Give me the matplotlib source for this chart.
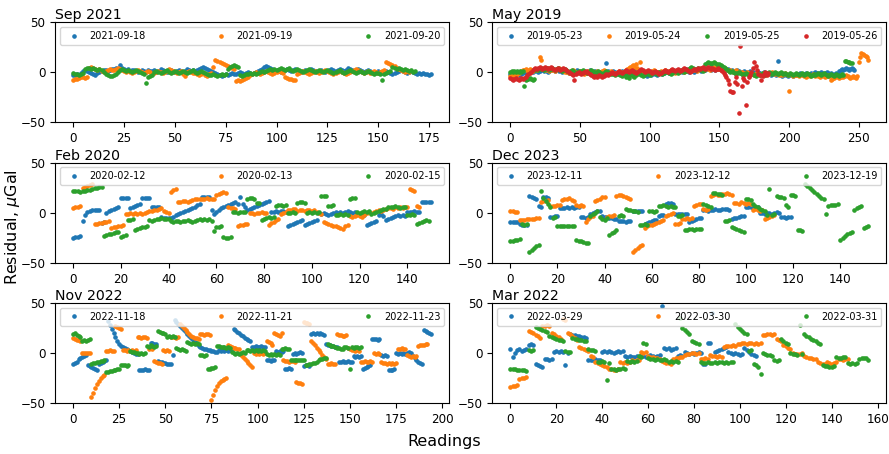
import numpy as np
import matplotlib
matplotlib.use("Agg")
import matplotlib.pyplot as plt

# residuals per survey day (uGal), one value per reading
sep_labels = ["2021-09-18", "2021-09-19", "2021-09-20"]
sep_a = [-3, -3, -2, -3, -1, 1, 2, 1, 0, -1, -2, -3, -1, 0, 1, 2, 2, 1, 2, 3,
         3, 4, 2, 7, 4, 3, 2, 3, 1, 2, 2, 1, 0, 1, 2, 1, 0, 2, 1, 1,
         2, 0, 1, 3, 2, 1, 0, 1, 2, 1, 0, 1, 2, 1, 0, 1, 3, 2, 1, 2,
         1, 2, 3, 4, 5, 4, 3, 2, 1, 0, -1, -2, -3, -4, -3, -2, -3, -2, -1, -2,
         -2, -1, 0, -1, -2, -1, 0, -1, -2, -1, 0, 1, 2, 3, 5, 6, 5, 4, 3, 2,
         2, 1, 0, 1, 2, 3, 2, 1, 2, 3, 2, 1, 0, 1, 2, 1, 2, 3, 2, 1,
         0, 1, 2, 1, 0, 1, 2, 3, 2, 1, 2, 3, 2, 1, 2, 4, 3, 2, 1, 2,
         3, 2, 1, 0, 1, 2, 1, 0, -1, 0, 1, 0, -1, 0, 1, 0, -1, -2, -1, 0,
         1, 2, 1, 0, -1, 0, 1, 0, -1, -2, -1, -2, -1, -2, -2, -3, -2]
sep_b = [-8, -7, -7, -6, -5, -5, -6, -5, 4, 5, 4, 3, 2, 3, 1, 0, 1, 2, 3, 2,
         2, 3, 4, 3, 2, 1, 0, 1, 0, -1, 0, 1, 2, 1, 0, -1, 0, 1, 0, -2,
         -1, 0, 1, 0, -1, 0, 1, 3, 2, 1, 0, -1, 0, 1, -2, -4, 0, 1, 0, -1,
         -1, -2, -3, -2, -1, -3, -4, -2, -1, 5, 12, 11, 10, 9, 8, 7, 6, 5, 4, 3,
         -9, -8, -9, -8, -7, -6, -5, -3, -2, -1, 0, -1, -2, -1, 0, 1, 0, -1, -2, -1,
         0, 1, 0, -1, -5, -6, -7, -7, -8, -8, -2, -1, 0, 1, 0, -1, -2, -1, 0, 1,
         0, -1, 0, 1, 2, 1, 0, -1, -2, -1, 0, 1, 0, -1, -2, -1, 0, 1, 2, 3,
         2, 1, 0, -1, 0, 1, -1, 0, 1, 0, -1, 0, 1, 2, 10, 9, 8, 7, 6, 4,
         3, 2, 1, 0, 1, 0]
sep_c = [-1, -2, -2, -3, -2, -1, 3, 4, 4, 3, 4, 3, 2, 3, 2, 0, -2, -3, -4, -4,
         -3, -2, 0, 2, 3, 2, 1, 2, 1, 0, 1, 2, 1, 0, -1, -2, -11, -5, -4, -3,
         0, 1, 0, -1, 0, 1, 2, 0, -1, 0, 1, 0, -1, 0, 1, 0, -1, 0, 1, 2,
         0, -1, 0, 1, 0, -1, -2, -3, -3, -2, -3, -4, -3, -2, -3, -2, 3, 5, 6, 7,
         6, 5, -3, -4, -3, -2, -2, -1, -2, -1, -2, -1, 0, 1, 0, 1, 2, 3, 2, 3,
         2, 3, 4, 3, 2, 3, 4, 2, 1, 2, 3, 2, 1, 0, 1, 2, 3, 2, 1, 0,
         1, 2, 1, 0, 1, 2, 1, 0, -1, 0, 1, 2, 0, -1, 0, 1, 2, 1, 0, -1,
         0, 1, 0, -1, 0, 1, 0, -1, -2, -1, -1, -2, -8, -2, -1, 0, 1, 5, 4, 3,
         4, 3, 2, 3, 2, 1, 2, 0, 1]

may_labels = ["2019-05-23", "2019-05-24", "2019-05-25", "2019-05-26"]
may_a = [-2, -1, -3, -2, -1, -2, -3, -1, -2, -1, 0, -1, 1, 0, 2, 1, 0, 1, 2, 1,
         0, 1, 2, 3, 1, 2, 1, 0, 1, 2, 3, 2, 1, 2, 3, 1, 2, 0, 1, 2,
         1, 0, -1, 0, 1, -1, 0, 1, 2, 0, -1, 0, 1, 0, -1, 0, 1, 2, 0, -1,
         0, 1, 0, -1, 0, -2, -1, 0, 1, 9, 1, 0, -1, 0, 1, 0, -1, -2, -1, 0,
         1, 0, -1, -2, -1, 0, 1, 2, 3, 4, 2, 1, 0, -1, -2, -3, -2, -3, -4, -3,
         -2, -3, -2, -1, -2, -3, -1, 0, -1, -2, -1, 0, 1, 0, -1, 0, 1, 2, 1, 0,
         1, 2, 1, 0, 1, 2, 3, 1, 0, 1, 2, 1, 0, 1, 2, 3, 2, 1, 2, 3,
         2, 3, 4, 3, 2, 4, 3, 2, 3, 4, 5, 4, 3, 4, 3, 2, 3, 2, 1, 2,
         1, 0, 1, 2, 1, 0, -1, 0, 1, 0, -1, 0, 1, -1, 0, -1, -2, -1, 0, -1,
         -2, -1, 0, -1, -2, -1, -2, -3, -2, -1, -2, -3, 11, -2, -3, -4, -3, -2, -3, -4,
         -3, -2, -3, -4, -3, -2, -3, -2, -1, -2, -3, -2, -1, -2, -3, -2, -1, -2, -1, 0,
         -1, -2, -1, 0, -1, -2, -1, 0, -1, -2, -1, -2, -3, -2, -1, -2, 1, 2, 3, 2,
         3, 4, 3, 2, 3, 4, 3, 2]
may_b = [-4, -3, -4, -2, -3, -2, -1, 0, 1, 2, 2, 3, 2, 1, 3, 2, 1, 2, 3, 2,
         3, 15, 12, 3, 4, 2, 3, 2, 1, 2, 3, 2, 1, 2, 3, 4, 3, 2, 1, 0,
         1, 0, -1, 0, 1, 2, 1, 0, -1, 0, 1, 0, -1, -2, -1, 0, 1, 0, -1, 0,
         -1, 0, 1, 0, -1, 0, 1, 2, 1, 0, -1, 0, 1, 0, -1, -2, -1, 0, 1, 0,
         -1, 0, 1, 2, 3, 4, 5, 6, 7, 5, 8, 4, 2, 10, 1, 0, -1, 0, 1, 0,
         -1, 0, 1, 2, 1, 0, -1, 0, 1, 0, 1, 2, 1, 0, 1, 2, 1, 0, -1, 0,
         1, 0, 1, 2, 1, 0, 1, 2, 3, 2, 1, 2, 3, 2, 1, 2, 3, 4, 3, 2,
         3, 4, 3, 2, 3, 4, 5, 4, 3, 4, 3, 4, 2, 3, 4, 3, 2, 1, 2, 1,
         0, 1, 2, 1, 0, -1, 0, -1, -2, -1, 0, -1, -2, -1, -2, -3, -2, -1, -2, -3,
         -2, -1, -2, -3, -2, -1, -2, -1, 0, -1, -2, -1, -2, -3, -2, -3, -2, -1, -2, -3,
         -19, -2, -3, -4, -3, -2, -3, -4, -3, -2, -3, -4, -5, -4, -3, -4, -3, -2, -3, -4,
         -3, -4, -5, -4, -3, -4, -5, -4, -3, -4, -8, -7, -6, -5, -4, -5, -6, -5, -4, -5,
         -4, -3, -4, -5, -6, -5, -4, -5, -6, -4, 10, 15, 19, 18, 17, 16, 15, 12]
may_c = [0, 1, 0, 1, 0, 1, 0, 1, 0, 1, -14, -8, -7, -7, -6, -7, -8, -7, 2, 3,
         2, 3, 4, 3, 2, 3, 4, 3, 2, 3, 4, 3, 2, 3, 4, 3, 2, 1, 2, 3,
         2, 1, 0, 1, 2, 1, 0, -1, 0, 1, 0, 1, 2, 1, 0, -1, 0, 1, 2, 1,
         0, -1, 0, 1, 0, -1, -2, -1, 0, 1, 0, -1, -2, -1, -2, -3, -2, -1, -2, -3,
         -4, -3, -2, -5, -4, -6, -3, -2, -4, -5, -3, -2, -1, -2, -3, -4, -3, -2, -1, -2,
         -3, -2, -1, 0, -1, -2, -1, 0, -1, -2, -1, 0, 1, 0, -1, -2, -1, 0, 1, 0,
         -1, 0, 1, 2, 1, 0, 1, 2, 3, 4, 5, 4, 3, 2, 3, 4, 3, 2, 1, 2,
         8, 9, 10, 9, 8, 9, 10, 9, 8, 7, 8, 7, 6, 5, 4, 3, 2, 1, 0, 1,
         0, -1, -2, -1, 0, -1, -2, -3, -2, -1, -2, -3, -2, -1, -2, -3, -4, -3, -2, -3,
         -2, -1, -2, -3, -2, -1, 0, -1, -2, -1, 0, -1, -2, -1, 0, -1, -2, -1, -2, -3,
         -2, -1, -2, -3, -2, -1, -2, -3, -2, -1, -2, -3, -2, -1, -2, -3, -4, -3, -2, -3,
         -2, -1, -2, -3, -2, -1, -2, -3, -4, -3, -2, -3, -4, -3, -2, -3, -4, -3, -2, -3,
         11, 11, 10, 10, 9, 9]
may_d = [-6, -7, -8, -7, -6, -7, -8, -7, -6, -7, -6, -5, -3, -2, -1, 0, 2, 3, 4, 3,
         4, 5, 4, 3, 4, 5, 4, 3, 4, 5, 4, 3, 2, 3, 4, 3, 2, 3, 4, 3,
         2, 1, 0, -1, -2, -3, -8, -2, -1, 0, -1, -2, -1, 0, 1, 0, -1, -2, -3, -4,
         -5, -4, -5, -4, -3, -4, -5, -4, -3, -2, -3, -2, -1, 0, -1, -2, -1, 0, 1, 0,
         -1, 0, 1, 2, 1, 0, 1, 2, 1, 0, -1, 0, 1, 2, 3, 2, 1, 0, 1, 2,
         1, 0, -1, 0, 1, 0, -1, -2, -1, 0, 1, 2, 1, 0, 1, 2, 3, 2, 1, 2,
         3, 2, 1, 2, 3, 4, 3, 2, 1, 0, 1, 2, 3, 2, 3, 4, 3, 4, 5, 4,
         3, 4, 5, 4, 3, 4, 3, 2, 3, 4, 3, 2, 1, -1, -3, -5, -8, -12, -19, -20,
         -20, -10, -5, -12, -41, 26, -14, -6, -8, -33, -10, -5, -3, 0, 4, 10, 6, 2, -2, -3,
         -8, -4, -2, 0, -3, -1]

feb_labels = ["2020-02-12", "2020-02-13", "2020-02-15"]
feb_a = [-25, -24, -24, -23, -8, -2, 1, 2, 3, 3, 3, 3, -10, -9, 0, 2, 3, 4, 5, 6,
         15, 15, 15, 15, 5, 6, 7, 8, 9, 15, 15, 15, 15, 6, 6, 6, 6, -4, -5, -5,
         -5, -5, -4, -2, -1, 0, 1, 2, 3, 4, 5, 6, 8, 9, 16, 16, 16, 16, 3, -1,
         1, 3, 5, 6, 7, 8, 9, 10, 11, 9, 16, 9, 6, 3, 4, 5, 6, 7, 8, 9,
         10, 11, 12, 1, 1, 2, 1, 2, 2, 1, -13, -12, -11, -10, -9, -8, -7, -12, -11, -10,
         -9, -8, -7, 0, -1, 0, -1, -2, -1, 0, 1, 0, 1, 0, 1, 2, 1, 0, 1, 0,
         -2, -3, -2, -12, -11, -10, -9, -8, -2, -1, -3, -7, -6, -5, -4, -3, -2, -3, -2, -3,
         1, 1, 1, 2, 1, 1, 11, 11, 11, 11, 11]
feb_b = [5, 6, 6, 7, 25, 26, 27, 28, 29, -11, -11, -10, -10, -9, -9, -8, -15, -14, -14, -13,
         -13, -12, -1, -1, 0, -1, 0, -1, 0, -1, 0, 1, 2, 2, 3, 3, 4, 5, 2, 1,
         0, 21, 23, 24, 11, 11, 12, 12, 11, 12, 13, 14, 14, 14, 14, 14, 15, 14, 14, 14,
         18, 19, 20, 21, 20, 6, 5, 5, 4, -13, -12, -12, -11, -11, 0, 0, -1, 0, 0, 1,
         0, 0, -12, -10, -9, -7, -6, -1, 0, 1, 3, 3, 4, 4, 2, 3, 3, 2, 3, 3,
         2, 3, 1, 0, -1, -9, -10, -11, -12, -13, -13, -14, -15, -16, -13, -12, -3, -4, -3, -2,
         -3, -4, -2, 0, 1, 0, 1, 2, 3, 2, 3, 4, 5, 5, 4, 6, 5, 6, 5, 6,
         6, 24, 23, 22, 7, 6]
feb_c = [22, 22, 22, 21, 22, 22, 23, 23, 24, 25, 25, 26, 26, -23, -22, -21, -21, -20, -19, -19,
         -24, -23, -22, -7, -7, -6, -17, -16, -15, -14, -14, -13, -7, -8, -7, -6, -6, -5, -6, -6,
         -6, -8, -9, -8, -8, -9, -8, -8, -7, -8, -9, -8, -7, -6, -7, -6, -7, -6, -8, -18,
         -14, -14, -13, -24, -25, -25, -24, 1, 1, 0, 1, 1, 1, 14, 15, 15, 14, 10, 10, -7,
         -6, -5, -4, -5, -4, 7, 8, 8, 7, 8, 0, 0, 1, 0, 10, 11, 11, 10, 0, 1,
         0, 1, 0, 1, 17, 17, 17, 7, 7, 8, -2, -2, -1, -2, -1, -2, 14, 15, 15, 1,
         0, 1, 2, 1, 2, -1, 0, 1, 2, 3, 4, 4, 6, 6, 6, 7, 6, 5, 6, 6,
         -2, -2, -1, -2, -11, -10, -9, -8, -7, -8]

dec_labels = ["2023-12-11", "2023-12-12", "2023-12-19"]
dec_a = [-9, -9, -9, -9, -11, -12, -12, -12, 17, 16, 15, 14, 7, 6, 16, 16, 15, -4, -4, -3,
         -3, 5, 5, 5, 6, 5, 6, 5, 6, 6, -4, -4, -5, -4, -1, 0, 1, 2, 2, -3,
         -4, -4, -5, -5, -6, -6, -8, -8, -8, -9, -8, -8, 2, 2, 2, 2, 2, -11, -10, -9,
         -8, -7, -7, -3, -2, -2, 9, 10, 10, 9, -1, -1, -1, -1, -1, -1, -9, -8, -7, -6,
         -5, -5, 3, 3, 2, 3, 3, 4, 3, 3, 4, 4, 4, 3, -6, -5, -5, -4, -3, -3,
         6, 6, 6, 5, 6, 6, 0, 0, -1, 0, 0, -1, 0, 1, 0, -4, -4, -5, -4, -4]
dec_b = [2, 2, 1, 1, -7, -7, -7, -6, -6, -6, -6, -5, -5, 11, 12, 12, 13, 7, 7, 7,
         8, 8, 13, 14, 14, 15, 13, 12, 8, 7, 8, 7, -9, -6, -4, -3, 12, 13, 14, 16,
         16, -4, -3, -3, -2, 17, 18, 18, 17, 16, 15, 14, -39, -37, -35, -33, -32, -15, -13, -12,
         -12, -11, -10, -9, -8, -7, -3, -2, -1, 0, -11, -11, -10, -6, -6, -5, -6, -5, 7, 8,
         9, 9, 4, 3, 4, 17, 18, 19, 18, 18, 19, 19, 20, 19, 18, 10, 10, 9, 11, 10,
         9, 10, 9, 3, 4, 3, 2, 3, -6, -5, -4, -3, -2]
dec_c = [-28, -28, -27, -27, -26, -11, -12, -11, -39, -37, -35, -33, -32, 22, 15, 12, 9, 6, -5, -4,
         -13, -13, -13, -13, -13, -13, -13, -13, -27, -28, -28, -29, -30, -30, -3, -1, 0, 2, -4, -6,
         -7, -5, -22, -20, -19, -17, -3, -2, -3, 4, 3, 3, 2, 2, 1, -12, -12, -11, -12, 2,
         2, 1, 2, 7, 7, 8, 7, 6, 7, 6, 6, -3, -3, -2, -17, -17, -16, -16, -17, -16,
         -16, -16, 9, 8, 7, 6, 20, 20, 19, 19, 18, -8, -8, -7, -14, -15, -16, -17, -18, -19,
         14, 14, 13, 9, 7, 6, 4, 3, 2, -2, 24, -2, -1, 17, 16, 16, 15, 8, 6, 18,
         18, 17, -17, -17, -18, 29, 27, 25, 23, 21, 19, 17, 15, 14, -1, 7, 8, 8, 8, 9,
         -27, -25, -23, -21, -20, -19, 3, 5, 6, 7, -15, -14, -13]

nov_labels = ["2022-11-18", "2022-11-21", "2022-11-23"]
nov_a = [-11, -10, -9, -6, -5, -4, -3, -2, -12, -13, -14, -15, -16, -17, -11, -10, -9, -8, -7, 32,
         28, 24, 20, 16, 12, 9, 7, 6, 5, 4, 3, 2, 1, 0, -1, -1, -17, -17, -17, -16,
         -17, -17, 10, 10, 9, 9, -8, -9, -9, -10, -10, -11, -11, -11, -2, 33, 31, 29, 27, 25,
         23, 21, 19, 17, 15, 13, 11, 9, 7, 6, 5, 4, 4, 3, 3, 2, 2, 1, 1, 3,
         2, 3, 2, 3, 2, 3, 2, 24, 23, 21, 20, 18, 17, 15, 14, 13, 12, 6, 6, 7,
         6, 6, 7, 6, 6, -7, -7, -8, -7, -7, 2, 1, 2, 1, 2, -16, -16, -15, -16, -1,
         0, -1, 0, 1, 0, -13, -12, -12, -13, 19, 20, 19, 20, 19, 20, 19, 18, 9, 8, 8,
         7, 7, 6, 6, -9, -9, -8, -9, -9, -8, -9, -9, -3, -4, -3, -4, -3, -16, -15, -14,
         -13, -12, 14, 14, 14, 13, 14, -2, -3, -2, -3, -17, -17, -17, -16, 0, -1, 0, -1, 0,
         -1, 0, 1, 0, -3, -5, -7, -9, -10, -11, 23, 22, 21, 20, 19]
nov_b = [15, 14, 13, 13, 12, 0, 0, 0, 0, 0, -44, -40, -35, -31, -28, -25, -23, -22, 2, 2,
         3, 2, 2, 27, 26, 25, 24, 3, 3, 2, 3, 2, 3, 2, 3, 16, 16, 15, 16, 16,
         15, 4, 5, 4, -8, -9, -10, -10, -11, 3, 2, 3, 2, 16, 16, 16, 15, 16, 29, 27,
         25, 23, 21, 19, 17, 16, 15, 15, 14, 19, 19, 18, 19, 19, 18, -47, -42, -37, -33, -30,
         -28, -27, -26, -25, 8, 7, 6, 5, 5, 4, 4, -2, -4, -6, -8, -10, -12, -14, 0, -1,
         0, -1, 0, -1, 0, 12, 11, 10, 8, 20, 19, 18, 17, 20, -7, -8, -8, -9, -8, -8,
         -9, -29, -30, -30, -31, 31, 30, 30, 29, 12, 10, 8, 5, 3, 1, -2, -4, -6, -11, -11,
         -10, -11, -11, 19, 18, 18, 17, 17, 18, 5, 4, 3, 3, 2, 3, 2, -9, -9, -8, -9,
         -9, -8, -9, 0, -1, 0, -1, -9, -10, -10, -11, -10, -11, -10, -11, -10, 4, 4, 5, 4,
         4, -2, -3, -4, -3, -4, -3, 7, 8, 8, 8, 9, 9]
nov_c = [19, 20, 18, 17, 16, 12, 13, 12, 13, 14, -11, -10, -10, -9, -9, -8, -8, -7, -19, -19,
         -18, -18, -17, -17, -16, -16, -12, -12, -12, -13, -12, 2, 1, 1, 0, 0, -1, 0, -1, 0,
         7, 6, 8, 7, 6, 7, 22, 21, 20, 20, 19, 16, 17, 16, 17, 16, 5, 4, 3, 4,
         3, 2, 11, 10, 9, 10, 9, 10, 9, -2, -2, -3, -2, -16, -16, -15, -15, -14, 7, 7,
         6, 6, 6, 5, 6, 5, 1, 0, -1, 0, -1, 0, 1, 0, 3, 3, 2, 3, 2, 3,
         2, 3, 2, 3, 2, -1, -2, -1, -2, -1, -2, -1, -2, 4, 4, 5, 4, 4, -7, -7,
         -7, -7, -7, -7, -7, -7, -12, -12, -11, -11, -10, -10, -9, -7, -6, -6, -5, -5, 9, 8,
         7, 7, 6, 5, 5, 4, 4, 6, 6, 5, -16, 6, 5, 6, 6, 5, 6]

mar_labels = ["2022-03-29", "2022-03-30", "2022-03-31"]
mar_a = [4, -4, 0, 3, 4, 2, 3, 4, 8, 9, 8, -11, -12, -13, -14, -6, -6, -7, -6, 1,
         2, 1, 2, 1, -12, 0, 19, 18, 18, 17, 17, 16, 16, 15, -7, -7, -7, -6, -7, -7,
         1, 2, 1, 2, 1, 0, 1, 2, 1, 2, -3, -4, -3, -4, -4, -3, -4, -2, -3, -4,
         -3, -2, -3, -4, -3, -2, 47, 5, 4, 5, 3, 4, 5, -3, -2, -3, 1, 0, -1, 0,
         -1, 0, 1, 0, -11, -11, 10, 10, 40, 1, 2, 3, 4, 5, 6, 1, 0, -1, 0, -1,
         -2, -1, 5, 3, 1, -1, -2, -3]
mar_b = [-34, -33, -33, -32, -26, -25, -25, -24, 22, 21, 20, 18, 17, 15, 27, 27, 28, 27, 20, 19,
         17, 16, 14, 34, 33, 20, 19, 17, 15, 13, 6, 5, 4, 3, 2, -3, -4, -9, -10, -11,
         -12, -13, -14, -16, -16, -17, -17, -16, -9, -10, -9, -10, -9, -7, -8, -7, -7, 1, 0, 1,
         -3, -4, -4, -5, -5, -6, -8, -9, -10, -10, -11, -6, -5, -5, -4, -4, -2, -1, -1, 0,
         0, -1, 0, -6, -6, -5, -6, -2, -3, -3, -4, -3, -4, 6, 7, 7, 7, 8, 7, 9,
         9, 10, 10, 9, 10, 10, 9, 10, 9, 10, 18, 18, 19, 19, 18, 19, 14, 13, 12, 8,
         7, 5, 4, 0, -1, -1, -1, 0, -3, -4, -5, -5, -6, -6, -9, -10, -11, -11, -9, -10,
         -11, -10, -9, -6, -6, -7, -6, -6]
mar_c = [-16, -16, -16, -17, -17, -17, -17, -18, 3, 2, 3, 26, 25, 24, 23, 22, 21, 17, 16, 15,
         14, 13, 13, 12, 2, 1, 1, 15, 14, 14, 13, 13, 12, 12, 4, 3, 3, 2, -9, -9,
         -8, -9, -27, -10, -16, -16, -17, -16, -16, -15, -16, -8, -9, -8, -9, -8, -3, -4, 10, 9,
         -5, -6, -6, -7, -6, -7, -7, -6, -7, -9, -8, -9, -8, -9, 35, 25, 23, 21, 19, 12,
         11, 10, 9, -9, -10, -10, -9, -10, -10, -9, -10, -9, -9, -10, -9, -10, -9, -9, 29, 26,
         24, 22, 20, 19, 2, 3, -11, -12, -14, -21, 0, -1, -2, -2, -3, -7, -8, -7, 14, 12,
         10, 9, 0, -1, -1, -2, 28, -1, 19, 17, 16, 14, 13, 12, 10, 9, -12, -13, -13, -14,
         -14, -13, -4, -5, -5, -4, -4, -10, -11, -10, -11, -10, -6, -5, -5, -5, -7]

panels = [
    ("Sep 2021", sep_labels, [sep_a, sep_b, sep_c]),
    ("May 2019", may_labels, [may_a, may_b, may_c, may_d]),
    ("Feb 2020", feb_labels, [feb_a, feb_b, feb_c]),
    ("Dec 2023", dec_labels, [dec_a, dec_b, dec_c]),
    ("Nov 2022", nov_labels, [nov_a, nov_b, nov_c]),
    ("Mar 2022", mar_labels, [mar_a, mar_b, mar_c]),
]

fig, axes = plt.subplots(3, 2, figsize=(8.89, 4.54), dpi=100)
fig.subplots_adjust(left=0.062, right=0.997, top=0.951, bottom=0.112,
                    wspace=0.11, hspace=0.40)

for ax, (title, labels, series) in zip(axes.flat, panels):
    for lab, vals in zip(labels, series):
        ax.plot(np.arange(len(vals)), vals, ".", ms=4.6, label=lab)
    ax.set_ylim(-50, 50)
    ax.set_yticks([-50, 0, 50])
    ax.tick_params(labelsize=8.6)
    ax.set_title(title, loc="left", fontsize=10.2, pad=2)
    ax.legend(loc="upper center", ncol=len(series), mode="expand",
              fontsize=7, handletextpad=0.6, borderaxespad=0.5)

fig.supylabel("Residual, $\\mu$Gal", fontsize=11.5, x=0.003)
fig.supxlabel("Readings", fontsize=11.5, y=0.012)

fig.savefig("out.png", dpi=100)
